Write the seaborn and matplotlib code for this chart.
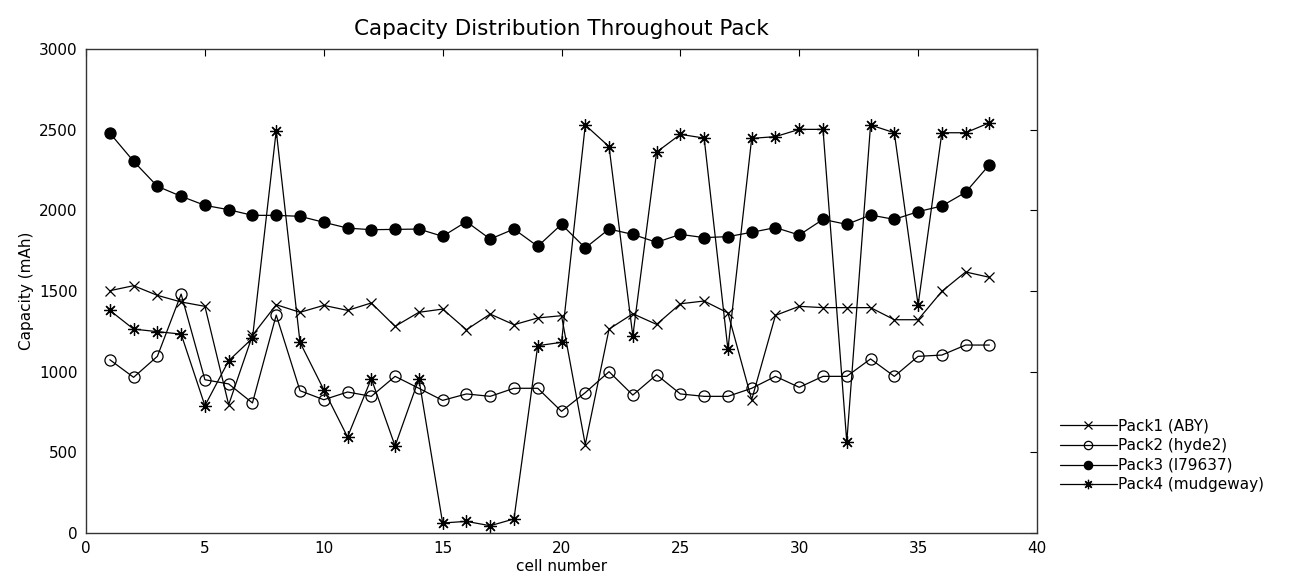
import numpy as np
import pandas as pd
import matplotlib
matplotlib.use('Agg')
import matplotlib.pyplot as plt
import seaborn as sns

# cell numbers and capacities (mAh)
cells = list(range(1, 39))

pack1 = [1502, 1533, 1473, 1432, 1405, 795, 1225, 1415, 1368, 1411,
         1380, 1426, 1281, 1368, 1388, 1260, 1357, 1291, 1333, 1347,
         548, 1264, 1359, 1293, 1421, 1438, 1364, 826, 1349, 1405,
         1397, 1397, 1397, 1322, 1322, 1498, 1618, 1585]

pack2 = [1074, 965, 1095, 1481, 950, 924, 806, 1351, 882, 826,
         874, 847, 971, 897, 822, 862, 847, 897, 897, 754,
         870, 1000, 855, 981, 862, 847, 847, 897, 971, 903,
         971, 971, 1079, 971, 1095, 1103, 1165, 1165]

pack3 = [2479, 2304, 2149, 2087, 2031, 2004, 1969, 1969, 1963, 1926,
         1890, 1880, 1882, 1884, 1839, 1930, 1822, 1884, 1777, 1913,
         1767, 1884, 1851, 1802, 1851, 1831, 1837, 1864, 1893, 1847,
         1944, 1913, 1971, 1944, 1992, 2027, 2112, 2283]

pack4 = [1380, 1264, 1248, 1233, 789, 1068, 1207, 2494, 1182, 888,
         595, 957, 539, 955, 62, 72, 45, 87, 1161, 1182,
         2529, 2395, 1221, 2361, 2471, 2448, 1138, 2446, 2457, 2502,
         2502, 564, 2529, 2481, 1413, 2481, 2481, 2543]

labels = ['Pack1 (ABY)', 'Pack2 (hyde2)', 'Pack3 (l79637)', 'Pack4 (mudgeway)']

sns.set_style('white')
plt.rcParams['font.family'] = ['DejaVu Sans']
plt.rcParams['text.color'] = 'black'
plt.rcParams['axes.labelcolor'] = 'black'

fig = plt.figure(figsize=(12.92, 5.85), dpi=100)
ax = fig.add_axes([0.0666, 0.0889, 0.7360, 0.8273])

common = dict(color='black', linewidth=0.9, markeredgecolor='black',
              markeredgewidth=0.9, ax=ax, sort=False)
sns.lineplot(x=cells, y=pack1, marker='x', markersize=7, label=labels[0], **common)
sns.lineplot(x=cells, y=pack2, marker='o', markersize=8,
             markerfacecolor='none', label=labels[1], **common)
sns.lineplot(x=cells, y=pack3, marker='o', markersize=8,
             markerfacecolor='black', label=labels[2], **common)
sns.lineplot(x=cells, y=pack4, marker=(8, 2, 0), markersize=9, label=labels[3], **common)

ax.set_xlim(0, 40)
ax.set_ylim(0, 3000)
ax.set_xticks(range(0, 41, 5))
ax.set_yticks(range(0, 3001, 500))
ax.tick_params(direction='in', length=5, width=0.8, top=True, right=True,
               labelsize=11, pad=6, colors='black')
for s in ax.spines.values():
    s.set_visible(True)
    s.set_color('#333333')
    s.set_linewidth(1.0)

ax.set_title('Capacity Distribution Throughout Pack', fontsize=15.5, pad=10,
             color='black')
ax.set_xlabel('cell number', fontsize=11, labelpad=2)
ax.set_ylabel('Capacity (mAh)', fontsize=11, labelpad=4)

leg = ax.legend(loc='center left', bbox_to_anchor=(1.018, 0.16),
                frameon=False, fontsize=11, handlelength=3.7, markerscale=0.75,
                handletextpad=0.1, labelspacing=0.3, borderaxespad=0)
for t in leg.get_texts():
    t.set_color('black')

fig.savefig('out.png', dpi=100)
